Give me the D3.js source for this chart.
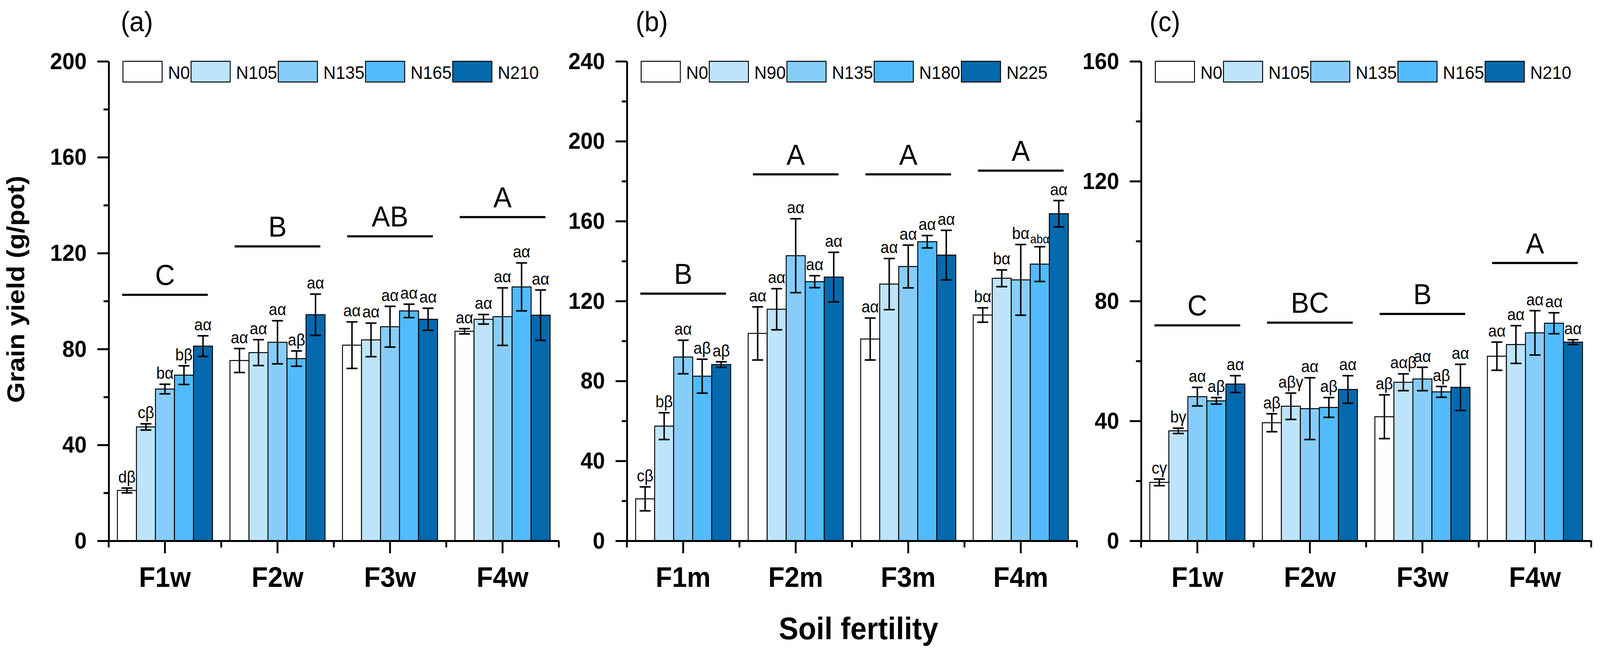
<!DOCTYPE html>
<html>
<head>
<meta charset="utf-8">
<script src="https://cdn.jsdelivr.net/npm/d3@7"></script>
<style>
  html, body { margin: 0; padding: 0; background: #fff; overflow: hidden; }
  svg { display: block; }
  text { font-family: "Liberation Sans", Arial, sans-serif; fill: #000; }
</style>
</head>
<body>
<div id="chart"></div>
<script>
// ---- data ----
const catsW = ["F1w", "F2w", "F3w", "F4w"];
const catsM = ["F1m", "F2m", "F3m", "F4m"];
const seriesW = ["N0", "N105", "N135", "N165", "N210"];
const seriesM = ["N0", "N90", "N135", "N180", "N225"];
const fills = ["#ffffff", "#bde4fb", "#87cdfa", "#52bbfc", "#0569ad"];

const yieldA = [
  [21.0, 47.5, 63.3, 69.1, 81.2],
  [75.2, 78.5, 82.8, 76.0, 94.3],
  [81.6, 83.8, 89.3, 95.9, 92.4],
  [87.4, 92.4, 93.5, 105.9, 94.1]
];
const errA = [
  [1.0, 1.3, 2.0, 3.9, 4.3],
  [5.0, 5.4, 9.0, 3.2, 8.6],
  [9.7, 7.0, 8.5, 2.8, 4.6],
  [1.1, 2.0, 12.0, 10.0, 10.5]
];
const sigA = [
  ["dβ", "cβ", "bα", "bβ", "aα"],
  ["aα", "aα", "aα", "aβ", "aα"],
  ["aα", "aα", "aα", "aα", "aα"],
  ["aα", "aα", "aα", "aα", "aα"]
];
const groupA = ["C", "B", "AB", "A"];
const groupLineA = [102.6, 122.8, 127.0, 135.0];

const yieldB = [
  [21.0, 57.4, 92.0, 82.4, 88.2],
  [103.8, 115.9, 142.7, 129.7, 132.0],
  [101.0, 128.5, 137.3, 149.7, 143.0],
  [113.0, 131.4, 130.6, 138.5, 163.7]
];
const errB = [
  [6.0, 6.7, 8.4, 8.5, 1.4],
  [13.3, 10.3, 18.5, 3.0, 12.4],
  [10.5, 12.8, 10.7, 3.1, 12.4],
  [3.6, 4.2, 17.7, 8.7, 6.6]
];
const sigB = [
  ["cβ", "bβ", "aα", "aβ", "aβ"],
  ["aα", "aα", "aα", "aα", "aα"],
  ["aα", "aα", "aα", "aα", "aα"],
  ["bα", "bα", "bα", "abα", "aα"]
];
const groupB = ["B", "A", "A", "A"];
const groupLineB = [123.7, 183.4, 183.4, 185.3];

const yieldC = [
  [19.5, 36.7, 48.1, 46.7, 52.3],
  [39.4, 44.9, 44.1, 44.5, 50.5],
  [41.4, 52.9, 54.0, 49.7, 51.2],
  [61.6, 65.5, 69.4, 72.6, 66.3]
];
const errC = [
  [1.1, 0.9, 3.1, 1.1, 2.8],
  [3.0, 4.4, 10.3, 3.3, 4.6],
  [7.3, 2.8, 3.9, 1.8, 7.7],
  [4.7, 6.3, 7.4, 3.5, 0.8]
];
const sigC = [
  ["cγ", "bγ", "aα", "aβ", "aα"],
  ["aβ", "aβγ", "aα", "aβ", "aα"],
  ["aβ", "aαβ", "aα", "aβ", "aα"],
  ["aα", "aα", "aα", "aα", "aα"]
];
const groupC = ["C", "BC", "B", "A"];
const groupLineC = [71.9, 72.8, 75.7, 92.7];

const yTicksA = [0, 40, 80, 120, 160, 200];
const yTicksB = [0, 40, 80, 120, 160, 200, 240];
const yTicksC = [0, 40, 80, 120, 160];

// ---- layout ----
const W = 4372, H = 1680;
const plotW = 1230, plotH = 1228, plotTop = 157;

const panels = [
  {tag: "(a)", left: 297, tagDx: 33, cats: catsW, series: seriesW, vals: yieldA, errs: errA, sig: sigA, grp: groupA, grpY: groupLineA, ticks: yTicksA},
  {tag: "(b)", left: 1713, tagDx: 24, cats: catsM, series: seriesM, vals: yieldB, errs: errB, sig: sigB, grp: groupB, grpY: groupLineB, ticks: yTicksB},
  {tag: "(c)", left: 3118, tagDx: 23, cats: catsW, series: seriesW, vals: yieldC, errs: errC, sig: sigC, grp: groupC, grpY: groupLineC, ticks: yTicksC}
];

// the figure is stretched over the whole window so it always fills the shot
const svg = d3.select("#chart").append("svg")
  .attr("viewBox", `0 0 ${W} ${H}`)
  .attr("preserveAspectRatio", "none")
  .style("width", "100vw")
  .style("height", "100vh")
  .style("background", "#fff");

panels.forEach((p, pi) => {
  const g = svg.append("g").attr("transform", `translate(${p.left},${plotTop})`);
  const ymax = p.ticks[p.ticks.length - 1];
  const step = p.ticks[1] - p.ticks[0];

  const x = d3.scaleBand().domain(p.cats).range([0, plotW])
    .paddingInner(0.155).paddingOuter(0.0775);
  const xs = d3.scaleBand().domain(p.series).range([0, x.bandwidth()]);
  const y = d3.scaleLinear().domain([0, ymax]).range([plotH, 0]);

  // bars
  p.cats.forEach((c, ci) => {
    const grp = g.append("g").attr("transform", `translate(${x(c)},0)`);
    grp.selectAll("rect")
      .data(p.series)
      .enter().append("rect")
      .attr("x", s => xs(s))
      .attr("y", (s, si) => y(p.vals[ci][si]))
      .attr("width", xs.bandwidth())
      .attr("height", (s, si) => y(0) - y(p.vals[ci][si]))
      .attr("fill", (s, si) => fills[si])
      .attr("stroke", "#000")
      .attr("stroke-width", 2.5);

    // error bars
    p.series.forEach((s, si) => {
      const cx = xs(s) + xs.bandwidth() / 2;
      const v = p.vals[ci][si], e = p.errs[ci][si];
      const eb = grp.append("g").attr("stroke", "#000").attr("stroke-width", 4);
      eb.append("line").attr("x1", cx).attr("x2", cx).attr("y1", y(v - e)).attr("y2", y(v + e));
      eb.append("line").attr("x1", cx - 15).attr("x2", cx + 15).attr("y1", y(v - e)).attr("y2", y(v - e));
      eb.append("line").attr("x1", cx - 15).attr("x2", cx + 15).attr("y1", y(v + e)).attr("y2", y(v + e));

      const small = (pi === 1 && ci === 3 && si === 3);
      grp.append("text")
        .attr("x", cx)
        .attr("y", y(v + e) - (small ? 9 : 14))
        .attr("text-anchor", "middle")
        .style("font-size", small ? "31px" : "42px")
        .text(p.sig[ci][si]);
    });

    // group significance line + letter
    const gc = x(c) + x.bandwidth() / 2;
    g.append("line")
      .attr("x1", gc - 117).attr("x2", gc + 117)
      .attr("y1", y(p.grpY[ci])).attr("y2", y(p.grpY[ci]))
      .attr("stroke", "#000").attr("stroke-width", 5.5);
    g.append("text")
      .attr("x", gc).attr("y", y(p.grpY[ci]) - 25)
      .attr("text-anchor", "middle")
      .style("font-size", "75px")
      .text(p.grp[ci]);
  });

  // y axis
  const minor = d3.range(step / 2, ymax, step);
  g.append("g")
    .call(d3.axisLeft(y).tickValues(minor).tickSize(14).tickFormat("").tickSizeOuter(0))
    .call(a => a.select(".domain").remove())
    .selectAll("line").attr("stroke-width", 5);
  const ya = g.append("g")
    .call(d3.axisLeft(y).tickValues(p.ticks).tickSize(31).tickPadding(29).tickSizeOuter(0));
  ya.select(".domain").attr("stroke-width", 5);
  ya.selectAll("line").attr("stroke-width", 5);
  ya.selectAll("text").style("font-size", "60px").style("font-weight", "bold")
    .attr("font-family", null);

  // x axis
  const xa = g.append("g").attr("transform", `translate(0,${plotH})`)
    .call(d3.axisBottom(x).tickSize(32).tickPadding(34).tickSizeOuter(0));
  xa.select(".domain").attr("stroke-width", 5);
  xa.selectAll("line").attr("stroke-width", 5);
  xa.selectAll("text").style("font-size", "73px").style("font-weight", "bold")
    .attr("font-family", null);
  xa.selectAll(".minor")
    .data(d3.range(p.cats.length + 1))
    .enter().append("line")
    .attr("x1", i => x.step() * i).attr("x2", i => x.step() * i)
    .attr("y1", 0).attr("y2", 17)
    .attr("stroke", "#000").attr("stroke-width", 5);

  // legend
  const lg = g.append("g").attr("transform", "translate(39,0)");
  let lx = 0;
  p.series.forEach((s, si) => {
    lg.append("rect")
      .attr("x", lx).attr("y", 0)
      .attr("width", 107).attr("height", 53)
      .attr("fill", fills[si]).attr("stroke", "#000").attr("stroke-width", 2.5);
    lx += 107 + 16;
    const t = lg.append("text")
      .attr("x", lx).attr("y", 45)
      .style("font-size", "47px")
      .text(s);
    lx += t.node().getComputedTextLength() + 3;
  });

  // panel tag
  svg.append("text")
    .attr("x", p.left + p.tagDx).attr("y", 80)
    .style("font-size", "72px")
    .text(p.tag);
});

// axis titles
svg.append("text")
  .attr("transform", "translate(66,741) rotate(-90)")
  .attr("text-anchor", "middle")
  .style("font-size", "68px").style("font-weight", "bold")
  .text("Grain yield (g/pot)");

svg.append("text")
  .attr("x", 2346).attr("y", 1637)
  .attr("text-anchor", "middle")
  .style("font-size", "80px").style("font-weight", "bold")
  .text("Soil fertility");
</script>
</body>
</html>
